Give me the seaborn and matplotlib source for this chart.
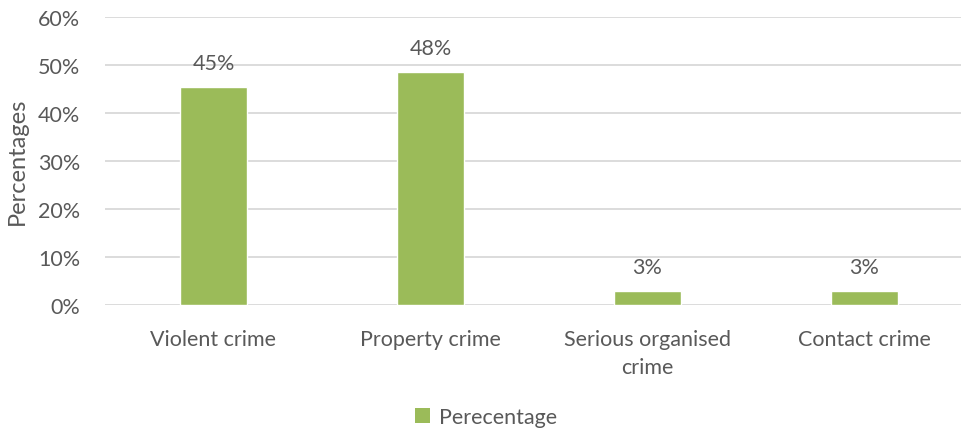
import matplotlib
matplotlib.use("Agg")
import matplotlib.pyplot as plt
import seaborn as sns
import pandas as pd
from matplotlib.patches import Patch

categories = ["Violent crime", "Property crime", "Serious organised\ncrime", "Contact crime"]
percentages = [45.4, 48.5, 2.9, 2.9]
y_ticks = [0, 10, 20, 30, 40, 50, 60]
series_name = "Perecentage"

bar_color = "#9BBB59"
text_color = "#595959"
grid_color = "#D9D9D9"

sns.set_theme(style="white")
plt.rcParams["font.family"] = ["Lato", "DejaVu Sans"]

df = pd.DataFrame({"category": categories, "value": percentages})

fig = plt.figure(figsize=(9.61, 4.35), dpi=100)
W, H = 961, 435
ax = fig.add_axes([105 / W, 1 - 306 / H, (961 - 105) / W, (306 - 17.5) / H])

sns.barplot(data=df, x="category", y="value", color=bar_color, width=0.313,
            saturation=1, ax=ax, zorder=3)

ax.set_ylim(0, 60)
ax.set_xlim(-0.5, -0.5 + 856 / 217)
ax.set_yticks(y_ticks)
ax.set_yticklabels([f"{t}%" for t in y_ticks])
ax.yaxis.grid(True, color=grid_color, linewidth=1.3, zorder=0)
ax.set_axisbelow(True)
for s in ax.spines.values():
    s.set_visible(False)
ax.tick_params(axis="both", length=0, labelsize=15.5, labelcolor=text_color)
ax.tick_params(axis="y", pad=18)
ax.tick_params(axis="x", pad=17)
for lbl in ax.get_xticklabels():
    lbl.set_linespacing(1.55)
ax.set_xlabel("")
ax.set_ylabel("Percentages", fontsize=17, color=text_color, labelpad=7)

for i, v in enumerate(percentages):
    ax.annotate(f"{round(v)}%", xy=(i, v), xytext=(0, 17), textcoords="offset points",
                ha="center", va="center", fontsize=15.5, color=text_color)

handles = [Patch(facecolor=bar_color, edgecolor="none", label=series_name)]
fig.legend(handles=handles, loc="center", bbox_to_anchor=(486 / W, 1 - 418 / H),
           frameon=False, fontsize=15.5, handlelength=0.7, handleheight=0.7,
           handletextpad=0.4, labelcolor=text_color)

fig.savefig("out.png", dpi=100)
